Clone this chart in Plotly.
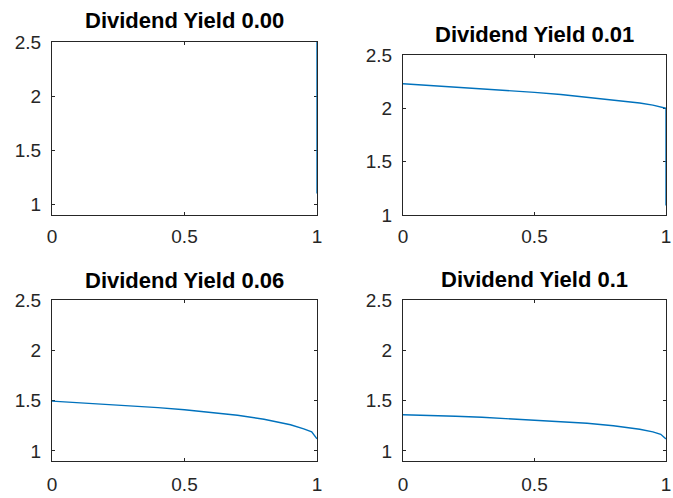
import plotly.graph_objects as go

# ---- data ----
titles = ["Dividend Yield 0.00", "Dividend Yield 0.01", "Dividend Yield 0.06", "Dividend Yield 0.1"]

x_q000 = [1.0, 1.0]
y_q000 = [3.0, 1.1]

x_q001 = [0.0, 0.1, 0.2, 0.3, 0.4, 0.5, 0.6, 0.7, 0.8, 0.9, 0.95, 1.0, 1.0]
y_q001 = [2.23, 2.215, 2.195, 2.18, 2.165, 2.15, 2.13, 2.105, 2.08, 2.05, 2.03, 2.0, 1.09]

x_q006 = [0.0, 0.1, 0.2, 0.3, 0.4, 0.5, 0.6, 0.7, 0.8, 0.9, 0.95, 0.98, 1.0]
y_q006 = [1.495, 1.48, 1.465, 1.45, 1.43, 1.41, 1.385, 1.355, 1.315, 1.26, 1.22, 1.19, 1.12]

x_q010 = [0.0, 0.1, 0.2, 0.3, 0.4, 0.5, 0.6, 0.7, 0.8, 0.9, 0.95, 0.98, 1.0]
y_q010 = [1.36, 1.355, 1.345, 1.335, 1.32, 1.31, 1.295, 1.275, 1.25, 1.215, 1.19, 1.165, 1.12]

x_ticks = [0, 0.5, 1]
x_ticklabels = ["0", "0.5", "1"]
y_ticks = [1, 1.5, 2, 2.5]
y_ticklabels = ["1", "1.5", "2", "2.5"]
y_ranges = [[0.9, 2.5], [1.0, 2.5], [0.9, 2.5], [0.9, 2.5]]

series = [(x_q000, y_q000), (x_q001, y_q001), (x_q006, y_q006), (x_q010, y_q010)]

# ---- layout geometry (pixels in a 673x498 canvas) ----
W, H = 673, 498
boxes = [  # left, right, top, bottom
    (52, 317, 42, 215),
    (403, 666, 55, 215),
    (52, 317, 300, 461),
    (403, 666, 300, 461),
]
title_centers = [21, 35, 280, 279]
x_standoffs = [4, 4, 6, 6]

AX = "#262626"
LINE = "#0072BD"
FONT = "Liberation Sans, Arial, sans-serif"

fig = go.Figure()
layout = dict(
    template="none",
    width=W, height=H,
    margin=dict(l=0, r=0, t=0, b=0, autoexpand=False),
    paper_bgcolor="white", plot_bgcolor="white",
    showlegend=False,
    font=dict(family=FONT, color=AX, size=19),
)
annotations = []
for i, ((xs, ys), (l, r, t, b)) in enumerate(zip(series, boxes)):
    n = "" if i == 0 else str(i + 1)
    fig.add_trace(go.Scatter(x=xs, y=ys, mode="lines",
                             line=dict(color=LINE, width=1.4),
                             xaxis="x" + n, yaxis="y" + n, hoverinfo="skip"))
    common = dict(showgrid=False, zeroline=False, showline=True, linecolor=AX,
                  linewidth=1.3, mirror="ticks", ticks="inside", ticklen=3,
                  tickcolor=AX, automargin=False, layer="below traces",
                  ticklabeloverflow="allow",
                  tickfont=dict(family=FONT, size=19, color=AX))
    layout["xaxis" + n] = dict(domain=[l / W, r / W], range=[0, 1],
                               tickvals=x_ticks, ticktext=x_ticklabels,
                               anchor="y" + n, ticklabelstandoff=x_standoffs[i], **common)
    layout["yaxis" + n] = dict(domain=[1 - b / H, 1 - t / H], range=y_ranges[i],
                               tickvals=y_ticks, ticktext=y_ticklabels,
                               anchor="x" + n, ticklabelstandoff=6, **common)
    annotations.append(dict(text="<b>" + titles[i] + "</b>", x=(l + r) / 2 / W,
                            y=1 - title_centers[i] / H, xref="paper", yref="paper",
                            xanchor="center", yanchor="middle", showarrow=False,
                            font=dict(family=FONT, size=22, color="black")))
layout["annotations"] = annotations
fig.update_layout(**layout)
fig.write_html("out.html", config={"displayModeBar": False},
               post_script="document.body.style.margin='0';")
